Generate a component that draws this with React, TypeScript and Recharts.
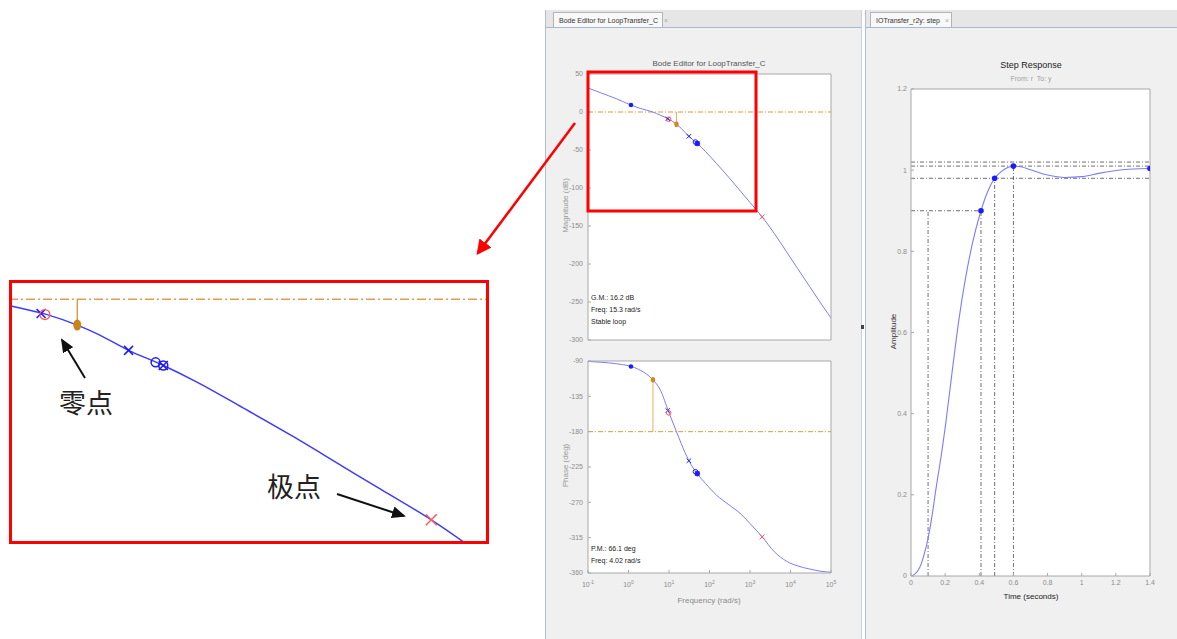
import React from 'react';
import { ComposedChart, Line, Scatter, XAxis, YAxis, ReferenceLine, CartesianGrid } from 'recharts';

// open loop response
const freq = [0.1, 0.2, 0.5, 1, 2, 4, 6, 10, 15.3, 20, 31, 49, 80, 150, 300, 600, 1000, 2000, 4000, 8000, 15000, 30000, 60000, 100000];
const magDb = [31.6, 25.5, 17.5, 10.5, 4.5, 0, -4, -9.5, -16.2, -21.5, -32, -41, -52, -68, -86, -105, -119, -138, -160, -184, -206, -230, -254, -271];
const phaseDeg = [-90.6, -91.5, -93.5, -96, -102, -114, -126, -156, -180, -195, -217, -233, -246, -261, -273, -285, -297, -314, -333, -345, -351, -355, -358, -359];

const freqTicks = [0.1, 1, 10, 100, 1000, 10000, 100000];
const magTicks = [-300, -250, -200, -150, -100, -50, 0, 50];
const phaseTicks = [-360, -315, -270, -225, -180, -135, -90];

// compensator / plant poles and zeros on the curve
const compDots = [{ w: 1.15, mag: 9.2, ph: -97 }, { w: 50, mag: -41.5, ph: -233.5 }];
const compPoles = [{ w: 9.3, mag: -9, ph: -153 }, { w: 31, mag: -32, ph: -217 }, { w: 50, mag: -41.5, ph: -233.5 }];
const compZeros = [{ w: 45, mag: -39.5, ph: -231 }, { w: 50, mag: -41.5, ph: -233.5 }];
const plantZeros = [{ w: 9.8, mag: -9.6, ph: -156 }];
const plantPoles = [{ w: 2000, mag: -138, ph: -314 }];
const gainMargin = { w: 15.3, v: -16.2 };
const phaseMargin = { w: 4.02, v: -113.9 };

// closed loop step response r -> y
const stepT = [0, 0.02, 0.04, 0.06, 0.08, 0.1, 0.12, 0.15, 0.18, 0.2, 0.24, 0.28, 0.32, 0.36, 0.41, 0.45, 0.49, 0.53, 0.57, 0.6, 0.65, 0.7, 0.8, 0.9, 1.0, 1.1, 1.2, 1.3, 1.4];
const stepY = [0, 0.004, 0.013, 0.03, 0.058, 0.093, 0.14, 0.225, 0.305, 0.365, 0.5, 0.63, 0.735, 0.82, 0.9, 0.948, 0.98, 0.997, 1.007, 1.01, 1.008, 1.001, 0.988, 0.982, 0.984, 0.992, 0.999, 1.003, 1.004];
const stepMarks = [{ t: 0.41, y: 0.9 }, { t: 0.49, y: 0.98 }, { t: 0.6, y: 1.01 }, { t: 1.4, y: 1.004 }];
const riseTimes = [0.1, 0.41];
const riseLevel = 0.9;
const settleBand = [0.98, 1.02];
const settleTime = 0.49;
const peak = { t: 0.6, y: 1.01 };
const stepXTicks = [0, 0.2, 0.4, 0.6, 0.8, 1, 1.2, 1.4];
const stepYTicks = [0, 0.2, 0.4, 0.6, 0.8, 1, 1.2];

const bodeData = freq.map((w, i) => ({ w, mag: magDb[i], ph: phaseDeg[i] }));
const stepData = stepT.map((t, i) => ({ t, y: stepY[i] }));

const AXIS = '#a8a8a8';
const TICK_TXT = '#8c8c8c';
const CURVE = '#7b7bff';
const BLUE = '#1a1aff';
const RED = '#ff5a5a';
const ORANGE = '#e39a35';
const FONT = '"Liberation Sans", Arial, sans-serif';
const NARROW = '"Liberation Sans Narrow", "Liberation Sans", sans-serif';

const cross = (color: string, s: number, sw = 1) => (p: any) => (
  <path d={`M${p.cx - s},${p.cy - s}L${p.cx + s},${p.cy + s}M${p.cx - s},${p.cy + s}L${p.cx + s},${p.cy - s}`} stroke={color} strokeWidth={sw} fill="none" />
);
const ring = (color: string, r: number, sw = 1) => (p: any) => (
  <circle cx={p.cx} cy={p.cy} r={r} stroke={color} strokeWidth={sw} fill="none" />
);
const dot = (color: string, rx: number, ry = rx) => (p: any) => (
  <ellipse cx={p.cx} cy={p.cy} rx={rx} ry={ry} fill={color} />
);

function PowTick(props: any) {
  const { x, y, payload } = props;
  const e = Math.round(Math.log10(payload.value));
  return (
    <text x={x} y={y} dy={9} textAnchor="middle" fontSize={7} fill={TICK_TXT} fontFamily={FONT}>
      10<tspan dy={-3} fontSize={5}>{e}</tspan>
    </text>
  );
}

function BodePane(props: { k: 'mag' | 'ph'; top: number; height: number; domain: number[]; ticks: number[]; guide: number; margin: { w: number; v: number }; freqLabels: boolean }) {
  const { k, top, height, domain, ticks, guide, margin, freqLabels } = props;
  return (
    <div style={{ position: 'absolute', left: 545, top }}>
      <ComposedChart width={297} height={height} data={bodeData} margin={{ top: 9, right: 10, bottom: freqLabels ? 0 : 4, left: 0 }}>
        <CartesianGrid fill="#fff" horizontal={false} vertical={false} />
        <XAxis dataKey="w" type="number" scale="log" domain={[0.1, 100000]} ticks={freqTicks} interval={0} allowDataOverflow
          stroke={AXIS} tickSize={-3} tickMargin={8} height={freqLabels ? 22 : 1} tick={freqLabels ? <PowTick /> : false} />
        <XAxis xAxisId="top" orientation="top" type="number" scale="log" domain={[0.1, 100000]} ticks={freqTicks} interval={0}
          allowDataOverflow stroke={AXIS} tickSize={-3} height={1} tick={false} />
        <YAxis type="number" domain={domain} ticks={ticks} interval={0} allowDataOverflow width={43} stroke={AXIS}
          tickSize={-3} tickMargin={8} tick={{ fontSize: 7, fill: TICK_TXT, fontFamily: FONT }} />
        <YAxis yAxisId="right" orientation="right" type="number" domain={domain} ticks={ticks} interval={0} allowDataOverflow
          width={1} stroke={AXIS} tickSize={-3} tick={false} />
        <ReferenceLine y={guide} stroke={ORANGE} strokeDasharray="5 2 1 2" />
        <ReferenceLine segment={[{ x: margin.w, y: guide }, { x: margin.w, y: margin.v }]} stroke={ORANGE} strokeWidth={0.8} />
        <Line dataKey={k} type="monotone" dot={false} stroke={CURVE} strokeWidth={1} isAnimationActive={false} />
        <Scatter data={compDots} dataKey={k} shape={dot(BLUE, 2.3)} isAnimationActive={false} />
        <Scatter data={compPoles} dataKey={k} shape={cross(BLUE, 2.2)} isAnimationActive={false} />
        <Scatter data={compZeros} dataKey={k} shape={ring(BLUE, 2.3)} isAnimationActive={false} />
        <Scatter data={plantZeros} dataKey={k} shape={ring(RED, 2.3)} isAnimationActive={false} />
        <Scatter data={plantPoles} dataKey={k} shape={cross(RED, 2.5)} isAnimationActive={false} />
        <Scatter data={[{ w: margin.w, [k]: margin.v }]} dataKey={k} shape={dot('#d4881c', 2.2, 2.8)} isAnimationActive={false} />
      </ComposedChart>
    </div>
  );
}

function InsetZoom() {
  return (
    <div style={{ position: 'absolute', left: 9, top: 280 }}>
      <ComposedChart width={479} height={263} data={bodeData} margin={{ top: 0, right: 0, bottom: 0, left: 0 }}>
        <CartesianGrid fill="#fff" horizontal={false} vertical={false} />
        <XAxis dataKey="w" type="number" scale="log" domain={[5.98, 4365]} allowDataOverflow hide />
        <YAxis type="number" domain={[-152.5, 12]} allowDataOverflow hide />
        <ReferenceLine y={0} stroke="#dea04a" strokeWidth={1.6} strokeDasharray="9 3 2 3" />
        <ReferenceLine segment={[{ x: gainMargin.w, y: 0 }, { x: gainMargin.w, y: gainMargin.v }]} stroke="#d08a20" strokeWidth={1.2} />
        <Line dataKey="mag" type="monotone" dot={false} stroke="#3c3cff" strokeWidth={1.5} isAnimationActive={false} />
        <Scatter data={compPoles} dataKey="mag" shape={cross(BLUE, 4.5, 1.5)} isAnimationActive={false} />
        <Scatter data={compZeros} dataKey="mag" shape={ring(BLUE, 4.5, 1.5)} isAnimationActive={false} />
        <Scatter data={plantZeros} dataKey="mag" shape={ring(RED, 5, 1.3)} isAnimationActive={false} />
        <Scatter data={plantPoles} dataKey="mag" shape={cross(RED, 5.5, 1.5)} isAnimationActive={false} />
        <Scatter data={[{ w: gainMargin.w, mag: gainMargin.v }]} dataKey="mag" shape={dot('#c98318', 4, 5.5)} isAnimationActive={false} />
      </ComposedChart>
    </div>
  );
}

function StepPane() {
  const dash = { stroke: '#4a4a4a', strokeWidth: 0.8, strokeDasharray: '4 2 1 2' };
  return (
    <div style={{ position: 'absolute', left: 866, top: 80 }}>
      <ComposedChart width={295} height={516} data={stepData} margin={{ top: 8, right: 10, bottom: 0, left: 0 }}>
        <CartesianGrid fill="#fff" horizontal={false} vertical={false} />
        <XAxis dataKey="t" type="number" domain={[0, 1.4]} ticks={stepXTicks} interval={0} allowDataOverflow height={20}
          stroke={AXIS} tickSize={-3} tickMargin={7} tick={{ fontSize: 7, fill: TICK_TXT, fontFamily: FONT }} />
        <XAxis xAxisId="top" orientation="top" type="number" domain={[0, 1.4]} ticks={stepXTicks} interval={0} allowDataOverflow
          height={1} stroke={AXIS} tickSize={-3} tick={false} />
        <YAxis type="number" domain={[0, 1.2]} ticks={stepYTicks} interval={0} allowDataOverflow width={45} stroke={AXIS}
          tickSize={-3} tickMargin={7} tick={{ fontSize: 7, fill: TICK_TXT, fontFamily: FONT }} />
        <YAxis yAxisId="right" orientation="right" type="number" domain={[0, 1.2]} ticks={stepYTicks} interval={0} allowDataOverflow
          width={1} stroke={AXIS} tickSize={-3} tick={false} />
        <ReferenceLine y={settleBand[1]} {...dash} />
        <ReferenceLine y={peak.y} {...dash} />
        <ReferenceLine y={settleBand[0]} {...dash} />
        <ReferenceLine segment={[{ x: 0, y: riseLevel }, { x: riseTimes[1], y: riseLevel }]} {...dash} />
        <ReferenceLine segment={[{ x: riseTimes[0], y: 0 }, { x: riseTimes[0], y: riseLevel }]} {...dash} />
        <ReferenceLine segment={[{ x: riseTimes[1], y: 0 }, { x: riseTimes[1], y: riseLevel }]} {...dash} />
        <ReferenceLine segment={[{ x: settleTime, y: 0 }, { x: settleTime, y: settleBand[0] }]} {...dash} />
        <ReferenceLine segment={[{ x: peak.t, y: 0 }, { x: peak.t, y: peak.y }]} {...dash} />
        <Line dataKey="y" type="monotone" dot={false} stroke={CURVE} strokeWidth={1.1} isAnimationActive={false} />
        <Scatter data={stepMarks.map((m) => ({ t: m.t, y: m.y }))} dataKey="y" shape={dot(BLUE, 2.8)} isAnimationActive={false} />
      </ComposedChart>
    </div>
  );
}

const abs = (s: React.CSSProperties): React.CSSProperties => ({ position: 'absolute', ...s });

export default function App() {
  const tiny: React.CSSProperties = { fontFamily: NARROW, fontSize: 7, color: '#222', lineHeight: '12px', whiteSpace: 'nowrap' };
  return (
    <div style={{ position: 'absolute', left: 0, top: 0, width: 1177, height: 639, background: '#fff', overflow: 'hidden', fontFamily: FONT }}>
      {/* Bode editor panel */}
      <div style={abs({ left: 545, top: 10, width: 315, height: 629, background: '#f0f0f0', borderLeft: '1px solid #aebfd6', borderRight: '1px solid #c8d2de' })} />
      <div style={abs({ left: 546, top: 10, width: 315, height: 17, background: '#e6e6e6', borderBottom: '1px solid #a9b9cd' })} />
      <div style={abs({ left: 553, top: 12, width: 110, height: 15, background: '#f8f8f8', border: '1px solid #b4b4b4', borderBottom: 'none', fontFamily: NARROW, fontSize: 7, lineHeight: '15px', color: '#333', paddingLeft: 5, boxSizing: 'border-box', whiteSpace: 'nowrap' })}>
        Bode Editor for LoopTransfer_C <span style={{ color: '#aaa', marginLeft: 4 }}>×</span>
      </div>

      {/* step response panel */}
      <div style={abs({ left: 865, top: 10, width: 312, height: 629, background: '#f0f0f0', borderLeft: '1px solid #aebfd6' })} />
      <div style={abs({ left: 866, top: 10, width: 311, height: 17, background: '#e6e6e6', borderBottom: '1px solid #a9b9cd' })} />
      <div style={abs({ left: 870, top: 12, width: 82, height: 15, background: '#f8f8f8', border: '1px solid #b4b4b4', borderBottom: 'none', fontFamily: NARROW, fontSize: 7, lineHeight: '15px', color: '#333', paddingLeft: 5, boxSizing: 'border-box', whiteSpace: 'nowrap' })}>
        IOTransfer_r2y: step <span style={{ color: '#aaa', marginLeft: 3 }}>×</span>
      </div>
      <div style={abs({ left: 861, top: 325, width: 3, height: 4, background: '#444' })} />

      <BodePane k="mag" top={64} height={281} domain={[-300, 50]} ticks={magTicks} guide={0} margin={gainMargin} freqLabels={false} />
      <BodePane k="ph" top={351} height={244} domain={[-360, -90]} ticks={phaseTicks} guide={-180} margin={phaseMargin} freqLabels />
      <StepPane />
      <InsetZoom />

      {/* titles and labels */}
      <div style={abs({ left: 609, top: 59, width: 200, textAlign: 'center', fontFamily: NARROW, fontSize: 8, color: '#555' })}>Bode Editor for LoopTransfer_C</div>
      <div style={abs({ left: 515, top: 201, width: 100, textAlign: 'center', fontSize: 8, color: '#9a9a9a', transform: 'rotate(-90deg)' })}>Magnitude (dB)</div>
      <div style={abs({ left: 515, top: 461, width: 100, textAlign: 'center', fontSize: 8, color: '#9a9a9a', transform: 'rotate(-90deg)' })}>Phase (deg)</div>
      <div style={abs({ left: 659, top: 596, width: 100, textAlign: 'center', fontSize: 8, color: '#8a8a8a' })}>Frequency (rad/s)</div>
      <div style={{ ...abs({ left: 591, top: 292 }), ...tiny }}>G.M.: 16.2 dB<br />Freq: 15.3 rad/s<br />Stable loop</div>
      <div style={{ ...abs({ left: 591, top: 543 }), ...tiny }}>P.M.: 66.1 deg<br />Freq: 4.02 rad/s</div>

      <div style={abs({ left: 981, top: 60, width: 100, textAlign: 'center', fontFamily: NARROW, fontSize: 9, color: '#222' })}>Step Response</div>
      <div style={abs({ left: 981, top: 75, width: 100, textAlign: 'center', fontFamily: NARROW, fontSize: 7, color: '#a0a0a0' })}>From: r&nbsp; To: y</div>
      <div style={abs({ left: 853, top: 327, width: 80, textAlign: 'center', fontSize: 8, color: '#333', transform: 'rotate(-90deg)' })}>Amplitude</div>
      <div style={abs({ left: 981, top: 592, width: 100, textAlign: 'center', fontFamily: NARROW, fontSize: 8, color: '#222' })}>Time (seconds)</div>

      {/* annotations */}
      <svg width={1177} height={639} style={abs({ left: 0, top: 0, pointerEvents: 'none' })}>
        <defs>
          <marker id="redHead" markerWidth="6" markerHeight="6" refX="5" refY="3" orient="auto" markerUnits="strokeWidth">
            <path d="M0,0L6,3L0,6z" fill="#ff0000" />
          </marker>
          <marker id="blackHead" markerWidth="7" markerHeight="6" refX="6" refY="3" orient="auto" markerUnits="strokeWidth">
            <path d="M0,0L7,3L0,6z" fill="#111" />
          </marker>
        </defs>
        <rect x={588} y={72} width={168} height={139} fill="none" stroke="#ff0000" strokeWidth={3} />
        <line x1={575} y1={123} x2={478} y2={253} stroke="#ff0000" strokeWidth={2.5} markerEnd="url(#redHead)" />
        <rect x={10.5} y={281.5} width={477} height={261} fill="none" stroke="#ff0000" strokeWidth={3} />
        <line x1={85} y1={378} x2={62} y2={340} stroke="#111" strokeWidth={2} markerEnd="url(#blackHead)" />
        <line x1={337} y1={494} x2={404} y2={516} stroke="#111" strokeWidth={2} markerEnd="url(#blackHead)" />
        <text x={59} y={413} fontSize={27} fill="#222" fontFamily='"Noto Sans CJK SC", sans-serif'>零点</text>
        <text x={267} y={497} fontSize={27} fill="#222" fontFamily='"Noto Sans CJK SC", sans-serif'>极点</text>
      </svg>
    </div>
  );
}
